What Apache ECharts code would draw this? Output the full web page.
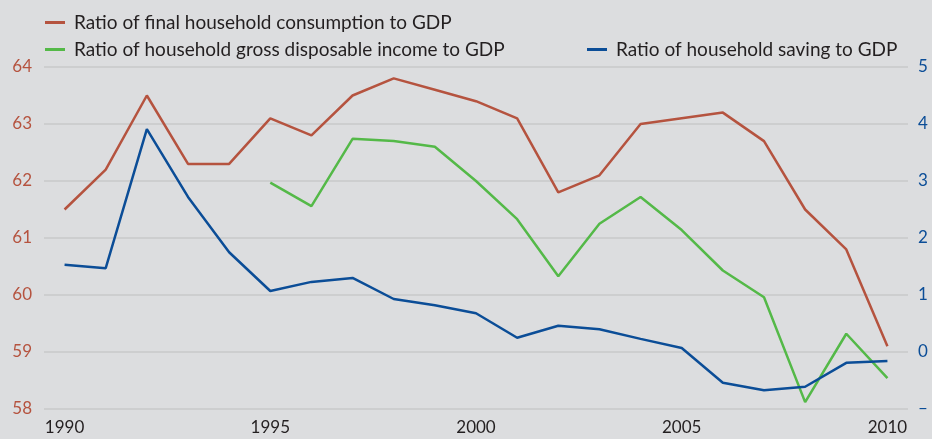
<!DOCTYPE html>
<html>
<head>
<meta charset="utf-8">
<script src="https://cdn.jsdelivr.net/npm/echarts@6/dist/echarts.min.js"></script>
<style>
  html, body { margin: 0; padding: 0; background: #dcdddf; }
  #chart { width: 932px; height: 439px; }
</style>
</head>
<body>
<div id="chart"></div>
<script>
var years = ['1990','1991','1992','1993','1994','1995','1996','1997','1998','1999','2000',
             '2001','2002','2003','2004','2005','2006','2007','2008','2009','2010'];

// left axis (%)
var consumption = [61.5, 62.2, 63.5, 62.3, 62.3, 63.1, 62.8, 63.5, 63.8, 63.6, 63.4,
                   63.1, 61.8, 62.1, 63.0, 63.1, 63.2, 62.7, 61.5, 60.8, 59.1];
var disposable = [null, null, null, null, null, 61.97, 61.56, 62.74, 62.7, 62.6, 62.0,
                  61.33, 60.33, 61.25, 61.72, 61.14, 60.43, 59.96, 58.12, 59.32, 58.54];
// right axis (%)
var saving = [1.53, 1.47, 3.91, 2.72, 1.75, 1.07, 1.23, 1.3, 0.93, 0.82, 0.68,
              0.25, 0.46, 0.4, 0.23, 0.07, -0.54, -0.67, -0.61, -0.19, -0.16];

var names = ['Ratio of final household consumption to GDP',
             'Ratio of household gross disposable income to GDP',
             'Ratio of household saving to GDP'];

var RED = '#b5533f', GREEN = '#54b948', BLUE = '#0b4d97';
var FONT = 'Lato';

var chart = echarts.init(document.getElementById('chart'));

var legendBase = {
  icon: 'rect',
  itemWidth: 20,
  itemHeight: 3,
  itemGap: 10,
  textStyle: { fontFamily: FONT, fontSize: 19, color: '#231f20', padding: [0, 0, 0, 4] }
};

var option = {
  backgroundColor: '#dcdddf',
  animation: false,
  legend: [
    Object.assign({}, legendBase, { data: [names[0]], left: 40, top: 8 }),
    Object.assign({}, legendBase, { data: [names[1]], left: 40, top: 35 }),
    Object.assign({}, legendBase, { data: [names[2]], left: 582, top: 35 })
  ],
  grid: { left: 44, right: 24, top: 67, bottom: 30 },
  xAxis: {
    type: 'category',
    data: years,
    boundaryGap: true,
    axisLine: { show: false },
    axisTick: { show: false },
    axisLabel: {
      interval: 4,
      margin: 10,
      fontFamily: FONT,
      fontSize: 17,
      color: '#231f20'
    }
  },
  yAxis: [
    {
      type: 'value',
      min: 58, max: 64, interval: 1,
      axisLine: { show: false },
      axisTick: { show: false },
      splitLine: { lineStyle: { color: '#cdcecf', width: 2 } },
      axisLabel: { margin: 12, fontFamily: FONT, fontSize: 17, color: RED }
    },
    {
      type: 'value',
      min: -1, max: 5, interval: 1,
      axisLine: { show: false },
      axisTick: { show: false },
      splitLine: { show: false },
      axisLabel: {
        margin: 10, fontFamily: FONT, fontSize: 17, color: BLUE,
        formatter: function (v) { return v < 0 ? '–' : String(v); }
      }
    }
  ],
  series: [
    {
      name: names[0], type: 'line', data: consumption, yAxisIndex: 0,
      symbol: 'none', color: RED, lineStyle: { width: 2.5, color: RED }
    },
    {
      name: names[1], type: 'line', data: disposable, yAxisIndex: 0,
      symbol: 'none', color: GREEN, lineStyle: { width: 2.5, color: GREEN }
    },
    {
      name: names[2], type: 'line', data: saving, yAxisIndex: 1,
      symbol: 'none', color: BLUE, lineStyle: { width: 2.5, color: BLUE }
    }
  ]
};

chart.setOption(option);
</script>
</body>
</html>
